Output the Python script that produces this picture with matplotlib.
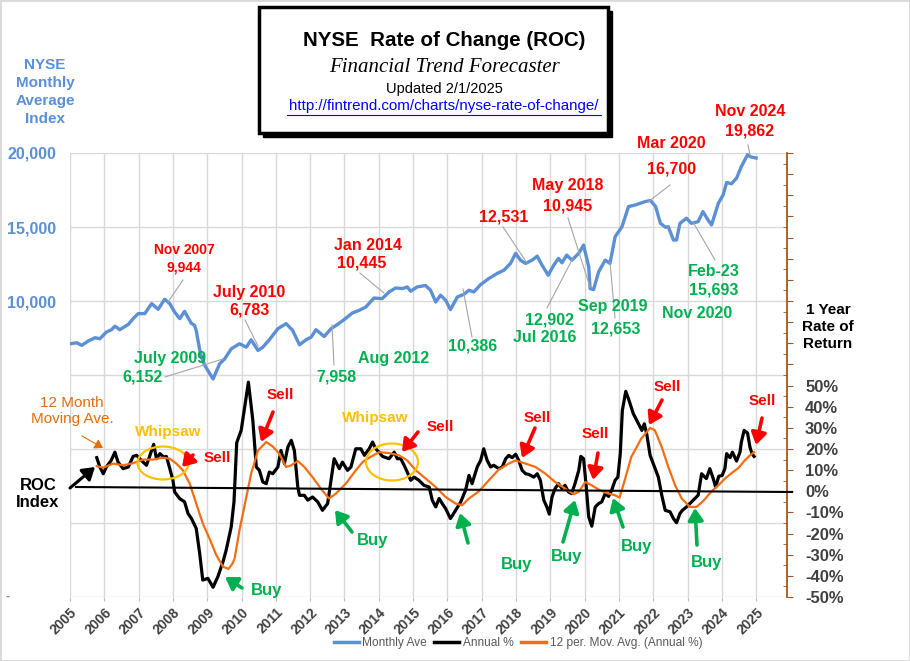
import matplotlib
matplotlib.use('Agg')
import matplotlib.pyplot as plt
from matplotlib.patches import Rectangle, Ellipse, FancyArrowPatch
from matplotlib.lines import Line2D

# NYSE monthly average index (decimal year, value)
index_pts = [
    (2005.00, 7110), (2005.20, 7180), (2005.34, 7000), (2005.53, 7290), (2005.73, 7520),
    (2005.87, 7450), (2006.06, 7900), (2006.21, 8060), (2006.31, 8300), (2006.45, 8060),
    (2006.70, 8420), (2006.84, 8810), (2006.99, 9150), (2007.18, 9150), (2007.38, 9820),
    (2007.57, 9440), (2007.76, 10120), (2007.91, 9820), (2008.05, 9250), (2008.20, 8810),
    (2008.34, 9300), (2008.53, 8510), (2008.63, 8350), (2008.68, 8000), (2008.78, 6700),
    (2008.85, 6100), (2008.93, 5640), (2009.17, 4730), (2009.36, 5750), (2009.51, 6090),
    (2009.70, 6770), (2009.94, 7110), (2010.14, 6880), (2010.28, 7380), (2010.48, 6660),
    (2010.62, 6880), (2010.81, 7380), (2011.06, 8130), (2011.30, 8470), (2011.49, 8010),
    (2011.69, 7040), (2011.88, 7380), (2012.03, 7560), (2012.17, 8060), (2012.41, 7600),
    (2012.61, 8130), (2012.80, 8420), (2012.99, 8740), (2013.23, 9190), (2013.43, 9370),
    (2013.62, 9590), (2013.86, 10200), (2014.10, 10160), (2014.30, 10610), (2014.49, 10880),
    (2014.69, 10840), (2014.83, 10950), (2014.93, 10660), (2015.12, 10950), (2015.36, 11050),
    (2015.51, 10730), (2015.66, 9930), (2015.80, 10390), (2015.95, 10050), (2016.09, 9420),
    (2016.29, 10270), (2016.48, 10450), (2016.63, 10730), (2016.77, 10610), (2016.97, 11110),
    (2017.21, 11520), (2017.45, 11860), (2017.65, 12080), (2017.84, 12540), (2017.99, 13220),
    (2018.13, 12760), (2018.28, 12540), (2018.47, 12760), (2018.62, 13030), (2018.76, 12420),
    (2018.94, 11740), (2019.10, 12420), (2019.24, 12880), (2019.34, 12580), (2019.48, 13100),
    (2019.63, 12760), (2019.83, 13220), (2019.97, 13780), (2020.12, 12310), (2020.16, 10840),
    (2020.26, 10770), (2020.41, 11970), (2020.60, 12760), (2020.74, 12540), (2020.89, 14340),
    (2021.09, 15020), (2021.28, 16380), (2021.48, 16490), (2021.63, 16610), (2021.77, 16720),
    (2021.92, 16790), (2022.07, 16380), (2022.21, 15250), (2022.36, 14980), (2022.44, 15020),
    (2022.59, 14120), (2022.68, 14120), (2022.78, 15250), (2022.97, 15590), (2023.11, 15250),
    (2023.31, 15360), (2023.45, 16040), (2023.60, 15470), (2023.70, 15140), (2023.90, 16610),
    (2024.04, 17170), (2024.14, 18010), (2024.28, 17920), (2024.43, 18300), (2024.57, 19090),
    (2024.75, 19880), (2024.85, 19730), (2025.00, 19660),
]

# Annual % rate of change (decimal year, percent)
roc_pts = [
    (2005.78, 15.9), (2005.87, 11.5), (2005.97, 8.3), (2006.06, 11.5), (2006.20, 14.6),
    (2006.31, 18.5), (2006.40, 13.8), (2006.55, 10.7), (2006.70, 11.5), (2006.84, 16.5),
    (2006.94, 17.0), (2007.08, 14.6), (2007.23, 12.3), (2007.38, 19.3), (2007.44, 22.2),
    (2007.52, 15.4), (2007.62, 17.8), (2007.73, 16.2), (2007.81, 16.5), (2007.91, 10.7),
    (2008.00, 5.2), (2008.05, -0.3), (2008.20, -3.5), (2008.34, -5.0), (2008.44, -10.5),
    (2008.54, -12.9), (2008.68, -17.6), (2008.78, -29.4), (2008.87, -42.0), (2009.02, -41.2),
    (2009.17, -45.4), (2009.31, -40.4), (2009.46, -33.3), (2009.55, -28.0), (2009.70, -16.8),
    (2009.78, -5.0), (2009.86, 23.0), (2009.99, 28.8), (2010.09, 39.8), (2010.20, 51.6),
    (2010.33, 33.5), (2010.43, 11.5), (2010.52, 9.9), (2010.62, 4.4), (2010.72, 3.6),
    (2010.81, 9.1), (2010.91, 8.3), (2011.06, 11.5), (2011.15, 19.3), (2011.25, 13.1),
    (2011.35, 20.9), (2011.45, 24.1), (2011.54, 19.3), (2011.64, 2.0), (2011.69, -1.9),
    (2011.83, -1.9), (2011.93, -4.2), (2012.07, -2.7), (2012.22, -5.0), (2012.36, -9.0),
    (2012.51, -5.8), (2012.61, 5.2), (2012.70, 15.4), (2012.85, 10.7), (2012.94, 13.8),
    (2013.09, 9.9), (2013.19, 11.5), (2013.33, 20.1), (2013.48, 20.1), (2013.58, 17.0),
    (2013.72, 20.1), (2013.82, 23.3), (2013.91, 20.1), (2014.01, 18.5), (2014.11, 16.5),
    (2014.21, 15.9), (2014.30, 15.4), (2014.45, 18.5), (2014.54, 15.4), (2014.64, 15.4),
    (2014.74, 12.3), (2014.83, 9.1), (2014.93, 5.2), (2015.03, 6.7), (2015.17, 5.2),
    (2015.32, 2.8), (2015.47, 2.0), (2015.56, -4.2), (2015.66, -7.4), (2015.76, -3.4),
    (2015.85, -5.8), (2015.95, -8.2), (2016.09, -12.9), (2016.24, -9.0), (2016.39, -5.0),
    (2016.53, 0.5), (2016.63, 7.5), (2016.72, 3.6), (2016.87, 11.5), (2016.97, 14.6),
    (2017.06, 20.1), (2017.16, 14.6), (2017.26, 11.5), (2017.35, 12.3), (2017.50, 10.7),
    (2017.60, 11.5), (2017.70, 15.4), (2017.79, 17.0), (2017.89, 15.9), (2017.99, 17.5),
    (2018.08, 14.6), (2018.18, 9.9), (2018.28, 8.3), (2018.37, 8.0), (2018.52, 6.7),
    (2018.62, 8.3), (2018.71, 5.2), (2018.81, -4.2), (2018.90, -7.4), (2018.97, -10.8),
    (2019.05, -2.7), (2019.14, 1.3), (2019.24, 3.6), (2019.34, 1.3), (2019.43, 2.8),
    (2019.53, -0.3), (2019.62, -1.1), (2019.72, 3.6), (2019.83, 9.9), (2019.89, 16.5),
    (2019.97, 15.4), (2020.04, 3.6), (2020.12, -12.1), (2020.21, -16.5), (2020.31, -7.4),
    (2020.41, -5.8), (2020.50, -5.0), (2020.60, -1.1), (2020.70, -2.4), (2020.79, 0.5),
    (2020.89, 5.2), (2020.97, 6.7), (2021.04, 17.8), (2021.10, 38.2), (2021.20, 47.3),
    (2021.28, 43.7), (2021.42, 36.7), (2021.57, 31.9), (2021.67, 28.8), (2021.74, 31.9),
    (2021.81, 27.2), (2021.91, 17.0), (2022.00, 13.1), (2022.15, 6.7), (2022.25, -1.9),
    (2022.35, -9.0), (2022.49, -9.7), (2022.59, -12.9), (2022.68, -14.9), (2022.78, -10.5),
    (2022.85, -9.0), (2022.97, -7.4), (2023.12, -5.0), (2023.22, -3.4), (2023.31, -1.9),
    (2023.41, 8.3), (2023.55, 6.0), (2023.65, 10.7), (2023.75, 6.0), (2023.82, 2.0),
    (2023.91, 7.1), (2024.01, 7.5), (2024.09, 10.7), (2024.14, 17.8), (2024.24, 15.9),
    (2024.31, 18.5), (2024.43, 14.3), (2024.53, 18.5), (2024.57, 23.3), (2024.65, 28.8),
    (2024.75, 27.5), (2024.82, 20.9), (2024.88, 17.8), (2024.94, 16.5),
]

# 12 period moving average of the annual % (decimal year, percent)
mavg_pts = [
    (2005.78, 11.9), (2005.97, 11.2), (2006.26, 13.1), (2006.55, 12.3), (2006.84, 13.3),
    (2007.13, 15.0), (2007.42, 15.0), (2007.71, 15.9), (2007.91, 15.4), (2008.10, 13.1),
    (2008.29, 9.9), (2008.49, 3.6), (2008.68, -5.8), (2008.87, -15.2), (2009.07, -22.5),
    (2009.26, -30.0), (2009.46, -35.7), (2009.62, -36.7), (2009.74, -34.1), (2009.80, -31.7),
    (2009.94, -18.4), (2010.14, -2.7), (2010.28, 8.3), (2010.48, 19.3), (2010.72, 23.3),
    (2010.91, 21.2), (2011.10, 17.8), (2011.30, 11.5), (2011.45, 12.3), (2011.64, 14.3),
    (2011.83, 11.5), (2012.07, 6.7), (2012.31, 1.3), (2012.55, -3.4), (2012.75, -1.1),
    (2013.04, 3.6), (2013.33, 9.9), (2013.53, 13.8), (2013.72, 15.9), (2014.01, 18.5),
    (2014.30, 18.1), (2014.59, 17.0), (2014.83, 14.6), (2015.08, 9.9), (2015.37, 6.0),
    (2015.66, 2.0), (2015.95, -2.7), (2016.24, -5.8), (2016.43, -6.6), (2016.63, -3.4),
    (2016.92, 0.0), (2017.21, 5.2), (2017.50, 10.3), (2017.79, 13.1), (2017.99, 14.6),
    (2018.28, 13.1), (2018.57, 11.5), (2018.86, 8.3), (2019.14, 4.4), (2019.43, 1.3),
    (2019.68, -1.4), (2019.83, -0.3), (2020.02, 4.4), (2020.21, 2.8), (2020.41, 0.8),
    (2020.64, -0.8), (2020.89, -1.9), (2021.02, -3.0), (2021.17, 5.2), (2021.36, 16.2),
    (2021.65, 24.9), (2021.91, 30.0), (2022.05, 28.8), (2022.25, 20.9), (2022.44, 11.5),
    (2022.64, 2.8), (2022.83, -3.4), (2023.07, -7.4), (2023.26, -7.4), (2023.46, -4.6),
    (2023.70, 0.0), (2023.90, 2.8), (2024.09, 6.0), (2024.28, 8.5), (2024.48, 11.0),
    (2024.67, 14.6), (2024.82, 17.0), (2024.94, 18.5),
]

years = list(range(2005, 2026))
left_ticks = [-10000, -5000, 0, 5000, 10000, 15000, 20000]
left_labels = ['', '', '', '', '10,000', '15,000', '20,000']

BLUE = '#5B8FD6'
ORANGE = '#F36E12'
RED = '#FF0000'
GREEN = '#00B050'
GOLD = '#FFC000'

W, H = 910, 661
plt.rcParams['font.family'] = ['Liberation Sans', 'DejaVu Sans']
fig = plt.figure(figsize=(W / 100, H / 100), dpi=100)


def fp(x, y):
    # pixel position (from top-left) -> figure fraction
    return (x / W, 1 - y / H)


def label(x, y, s, color, size=11.5, weight='bold', **kw):
    fig.text(x / W, 1 - y / H, s, color=color, fontsize=size, fontweight=weight,
             ha=kw.pop('ha', 'center'), va='center', **kw)


def arrow(x0, y0, x1, y1, color, lw=2.6, scale=13):
    fig.add_artist(FancyArrowPatch(fp(x0, y0), fp(x1, y1), transform=fig.transFigure,
                                   arrowstyle='-|>,head_length=0.55,head_width=0.35',
                                   mutation_scale=scale, lw=lw, color=color,
                                   shrinkA=0, shrinkB=0, zorder=5))


def leader(x0, y0, x1, y1):
    fig.add_artist(Line2D([x0 / W, x1 / W], [1 - y0 / H, 1 - y1 / H],
                          transform=fig.transFigure, color='#A6A6A6', lw=0.8))


# axes
ax = fig.add_axes([70 / W, 1 - 597 / H, (787 - 70) / W, (597 - 153) / H])
ax2 = ax.twinx()

bx = [p[0] for p in index_pts]
by = [p[1] for p in index_pts]
ax.plot(bx, by, color=BLUE, lw=2.4, solid_joinstyle='round', zorder=3)

rx = [p[0] for p in roc_pts]
ry = [p[1] for p in roc_pts]
mx = [p[0] for p in mavg_pts]
my = [p[1] for p in mavg_pts]
ax2.plot(rx, ry, color='black', lw=2.3, solid_joinstyle='round', zorder=3)
ax2.plot(mx, my, color=ORANGE, lw=1.6, zorder=4)

ax.set_xlim(2005, 2025.9)
ax.set_ylim(-10000, 20000)
ax2.set_ylim(-50, 160)

ax.set_xticks(years)
ax.set_xticklabels([str(y) for y in years], rotation=45, ha='right',
                   rotation_mode='anchor', fontsize=10, fontweight='bold', color='#404040')
ax.tick_params(axis='x', length=3, color='#BFBFBF', pad=3)
ax.set_yticks(left_ticks)
ax.set_yticklabels(left_labels, fontsize=11.5, fontweight='bold', color=BLUE)
ax.tick_params(axis='y', length=0, pad=10)
ax.grid(True, color='#D9D9D9', lw=1)
ax.set_axisbelow(True)
for s in ax.spines.values():
    s.set_visible(False)

major = list(range(-50, 161, 10))
ax2.set_yticks(major)
ax2.set_yticklabels([f'{v}%' if v <= 50 else '' for v in major],
                    fontsize=12, fontweight='bold', color='#404040')
ax2.set_yticks(list(range(-45, 161, 10)), minor=True)
ax2.tick_params(axis='y', which='major', length=4, color='#A0581E', pad=9, direction='out')
ax2.tick_params(axis='y', which='minor', length=3, color='#A0581E', direction='in')
for k in ['left', 'top', 'bottom']:
    ax2.spines[k].set_visible(False)
ax2.spines['right'].set_color('#A0581E')
ax2.spines['right'].set_linewidth(1.3)

# zero line across the ROC panel
fig.add_artist(Line2D([76 / W, 792 / W], [1 - 487 / H, 1 - 492 / H],
                      transform=fig.transFigure, color='black', lw=1.5, zorder=2))

# title box with shadow
fig.add_artist(Rectangle(fp(263, 137), (612 - 263) / W, (137 - 11) / H,
                         transform=fig.transFigure, facecolor='black', edgecolor='black'))
fig.add_artist(Rectangle(fp(259, 133), (608 - 259) / W, (133 - 7) / H,
                         transform=fig.transFigure, facecolor='white', edgecolor='black', lw=2.5))
label(444, 40, 'NYSE  Rate of Change (ROC)', 'black', size=14.8)
fig.text(444 / W, 1 - 68 / H, 'Financial Trend Forecaster', ha='center', va='center',
         fontsize=15, style='italic', family=['Liberation Serif', 'DejaVu Serif'])
label(444, 89, 'Updated 2/1/2025', 'black', size=10.5, weight='normal')
label(444, 106, 'http://fintrend.com/charts/nyse-rate-of-change/', '#0000FF', size=10.9,
      weight='normal')
fig.add_artist(Line2D([287 / W, 601 / W], [1 - 115 / H, 1 - 115 / H],
                      transform=fig.transFigure, color='#0000FF', lw=0.8))

# side titles
label(45, 92, 'NYSE\nMonthly\nAverage\nIndex', BLUE, size=11, linespacing=1.35)
label(828, 327, '1 Year\nRate of\nReturn', 'black', size=11, linespacing=1.3)
label(38, 494, 'ROC\nIndex', 'black', size=12, linespacing=1.1)
arrow(70, 488, 95, 467, 'black', lw=2.2)
label(72, 411, '12 Month\nMoving Ave.', '#E46C0A', size=11, weight='normal', linespacing=1.1)
arrow(82, 436, 103, 448, '#E46C0A', lw=0.8, scale=9)
fig.text(6 / W, 1 - 597 / H, '-', color=BLUE, fontsize=9, fontweight='bold', va='center')

# index annotations
label(184, 250, 'Nov 2007', RED, size=10)
label(184, 268, '9,944', RED, size=10)
leader(183, 280, 168, 302)
label(249, 292, 'July 2010', RED)
label(249, 310, '6,783', RED)
leader(245, 320, 258, 346)
label(170, 359, 'July 2009', GREEN)
label(143, 377, '6,152', GREEN)
leader(165, 377, 223, 359)
label(394, 359, 'Aug 2012', GREEN)
label(336, 377, '7,958', GREEN)
leader(334, 365, 332, 325)
label(368, 245, 'Jan 2014', RED)
label(362, 263, '10,445', RED)
leader(360, 273, 384, 293)
label(473, 346, '10,386', GREEN)
leader(472, 337, 463, 289)
label(504, 217, '12,531', RED)
leader(503, 227, 527, 263)
label(568, 185, 'May 2018', RED)
label(568, 206, '10,945', RED)
leader(568, 218, 590, 287)
label(549, 320, '12,902', GREEN)
label(545, 337, 'Jul 2016', GREEN)
leader(547, 308, 573, 258)
label(613, 306, 'Sep 2019', GREEN)
label(616, 329, '12,653', GREEN)
leader(615, 318, 610, 262)
label(671, 143, 'Mar 2020', RED)
label(672, 169, '16,700', RED)
leader(670, 185, 648, 202)
label(697, 313, 'Nov 2020', GREEN)
label(714, 272, 'Feb-23', GREEN)
label(714, 290, '15,693', GREEN)
leader(715, 260, 693, 222)
label(750, 112, 'Nov 2024', RED)
label(750, 131, '19,862', RED)
leader(748, 145, 750, 155)

# whipsaw zones
for cx, cy, w, h, tx, ty in [(163, 463, 51, 33, 168, 432), (392, 462, 52, 37, 375, 418)]:
    fig.add_artist(Ellipse(fp(cx, cy), w / W, h / H, transform=fig.transFigure,
                           fill=False, edgecolor=GOLD, lw=1.6, zorder=5))
    label(tx, ty, 'Whipsaw', GOLD, size=11)

# sell signals
for tx, ty, x0, y0, x1, y1 in [(217, 458, 193, 455, 182, 467), (280, 395, 273, 412, 261, 442),
                               (440, 427, 418, 432, 402, 452), (537, 418, 535, 428, 522, 458),
                               (595, 434, 598, 453, 593, 480), (667, 387, 662, 400, 649, 425),
                               (762, 401, 762, 418, 756, 445)]:
    label(tx, ty, 'Sell', RED, size=11)
    arrow(x0, y0, x1, y1, RED)

# buy signals
for tx, ty, x0, y0, x1, y1 in [(267, 590, 242, 588, 225, 577), (373, 540, 352, 532, 335, 510),
                               (517, 565, 468, 543, 460, 513), (567, 557, 563, 542, 575, 500),
                               (637, 546, 623, 527, 613, 498), (707, 562, 697, 545, 695, 508)]:
    label(tx, ty, 'Buy', GREEN, size=12)
    arrow(x0, y0, x1, y1, GREEN)

# legend
handles = [Line2D([], [], color=BLUE, lw=2.5), Line2D([], [], color='black', lw=2.5),
           Line2D([], [], color=ORANGE, lw=2.5)]
fig.legend(handles, ['Monthly Ave', 'Annual %', '12 per. Mov. Avg. (Annual %)'],
           loc='center', bbox_to_anchor=fp(518, 643), ncol=3, frameon=False, fontsize=8.6,
           handlelength=2.1, handletextpad=0.3, columnspacing=0.6, labelcolor='#595959')

fig.add_artist(Rectangle((0, 0), 1, 1, transform=fig.transFigure, fill=False,
                         edgecolor='#D9D9D9', lw=2))

fig.savefig('out.png', dpi=100)
